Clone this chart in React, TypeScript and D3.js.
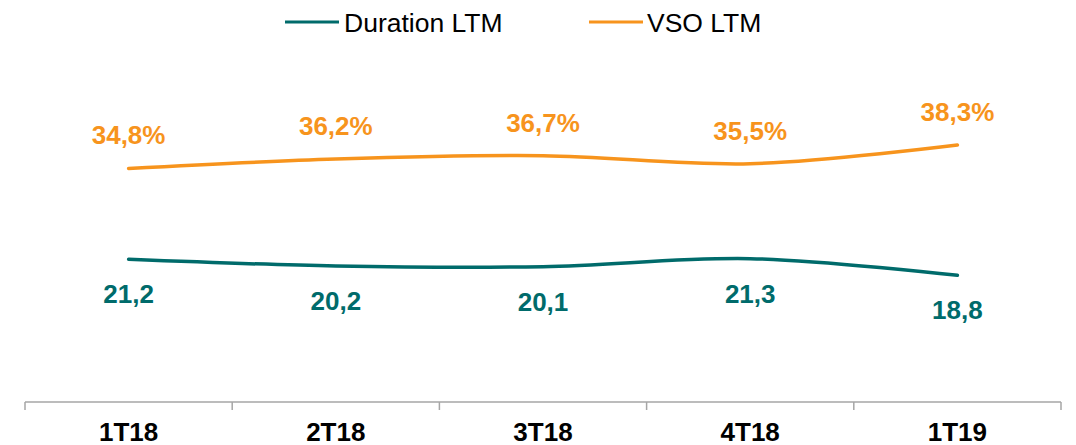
import React from "react";
import * as d3 from "d3";

const categories = ["1T18", "2T18", "3T18", "4T18", "1T19"];
const durationValues = [21.2, 20.2, 20.1, 21.3, 18.8];
const vsoValues = [34.8, 36.2, 36.7, 35.5, 38.3];
const durationLabels = ["21,2", "20,2", "20,1", "21,3", "18,8"];
const vsoLabels = ["34,8%", "36,2%", "36,7%", "35,5%", "38,3%"];

const width = 1076;
const height = 445;
const margin = { top: 0, right: 15, bottom: 44, left: 25 };
const TEAL = "#006B6B";
const ORANGE = "#F7941D";
const FONT = "'Liberation Sans', Arial, sans-serif";

const App = () => {
  const innerHeight = height - margin.top - margin.bottom;

  const x = d3
    .scaleBand()
    .domain(categories)
    .range([margin.left, width - margin.right]);

  // both series read on the same 0-60 scale
  const y = d3.scaleLinear().domain([0, 60]).range([margin.top + innerHeight, margin.top]);

  const cx = (i) => x(categories[i]) + x.bandwidth() / 2;

  const line = d3
    .line()
    .x((d, i) => cx(i))
    .y((d) => y(d))
    .curve(d3.curveCatmullRom.alpha(0.5));

  const axisY = y(0) + 1;
  const tickXs = categories.map((c) => x(c)).concat([x.range()[1]]);

  return (
    <div style={{ position: "absolute", left: 0, top: 0 }}>
      <svg width={width} height={height} style={{ display: "block" }}>
        {/* Legend */}
        <g fontFamily={FONT} fontSize={26.5}>
          <line x1={285} x2={339} y1={22} y2={22} stroke={TEAL} strokeWidth={3} />
          <text x={344} y={32} fill="#000">Duration LTM</text>
          <line x1={589} x2={643} y1={22} y2={22} stroke={ORANGE} strokeWidth={3} />
          <text x={647} y={32} fill="#000">VSO LTM</text>
        </g>

        {/* Axis */}
        <g>
          <line x1={x.range()[0]} x2={x.range()[1]} y1={axisY} y2={axisY} stroke="#A6A6A6" strokeWidth={1.5} />
          {tickXs.map((tx, i) => (
            <line key={i} x1={tx} x2={tx} y1={axisY} y2={axisY + 8} stroke="#A6A6A6" strokeWidth={1.5} />
          ))}
          {categories.map((c, i) => (
            <text
              key={c}
              x={cx(i)}
              y={441}
              textAnchor="middle"
              fontFamily={FONT}
              fontWeight="bold"
              fontSize={26}
              fill="#000"
            >
              {c}
            </text>
          ))}
        </g>

        {/* Lines */}
        <path d={line(vsoValues)} fill="none" stroke={ORANGE} strokeWidth={3.5} strokeLinecap="round" />
        <path d={line(durationValues)} fill="none" stroke={TEAL} strokeWidth={3.5} strokeLinecap="round" />

        {/* Data labels */}
        <g fontFamily={FONT} fontWeight="bold" fontSize={26} textAnchor="middle">
          {vsoValues.map((v, i) => (
            <text key={"v" + i} x={cx(i)} y={y(v) - 24} fill={ORANGE}>
              {vsoLabels[i]}
            </text>
          ))}
          {durationValues.map((v, i) => (
            <text key={"d" + i} x={cx(i)} y={y(v) + 44} fill={TEAL}>
              {durationLabels[i]}
            </text>
          ))}
        </g>
      </svg>
    </div>
  );
};

export default App;
